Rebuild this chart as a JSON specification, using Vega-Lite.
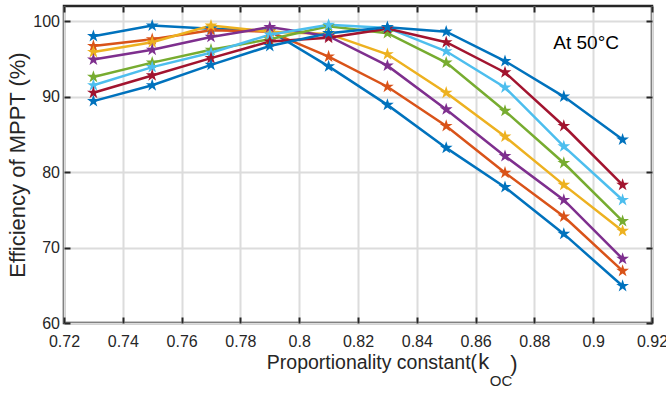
{
  "$schema": "https://vega.github.io/schema/vega-lite/v6.json",
  "width": 588,
  "height": 317,
  "autosize": {"type": "none"},
  "padding": {"left": 64, "top": 6, "right": 14, "bottom": 73},
  "background": "white",
  "config": {
    "font": "Liberation Sans",
    "view": {"stroke": "#262626", "strokeWidth": 2.5},
    "axis": {
      "domain": false,
      "labelFont": "Liberation Sans",
      "labelFontSize": 16,
      "labelColor": "#262626",
      "labelFlush": false,
      "labelOverlap": false,
      "tickColor": "#262626",
      "tickWidth": 2,
      "tickSize": -6,
      "gridColor": "#dcdcdc",
      "gridWidth": 2,
      "gridOpacity": 1,
      "titleFont": "Liberation Sans",
      "titleFontWeight": "normal",
      "titleColor": "#262626"
    }
  },
  "data": {"values": [
      {"k": 0.73, "eff": 98.0, "s": "1200W/m2"}, {"k": 0.75, "eff": 99.4, "s": "1200W/m2"}, {"k": 0.77, "eff": 99.0, "s": "1200W/m2"}, {"k": 0.79, "eff": 98.7, "s": "1200W/m2"}, {"k": 0.81, "eff": 94.0, "s": "1200W/m2"}, {"k": 0.83, "eff": 88.9, "s": "1200W/m2"}, {"k": 0.85, "eff": 83.2, "s": "1200W/m2"}, {"k": 0.87, "eff": 78.0, "s": "1200W/m2"}, {"k": 0.89, "eff": 71.8, "s": "1200W/m2"}, {"k": 0.91, "eff": 64.9, "s": "1200W/m2"},
      {"k": 0.73, "eff": 96.7, "s": "1100W/m2"}, {"k": 0.75, "eff": 97.6, "s": "1100W/m2"}, {"k": 0.77, "eff": 98.8, "s": "1100W/m2"}, {"k": 0.79, "eff": 98.6, "s": "1100W/m2"}, {"k": 0.81, "eff": 95.3, "s": "1100W/m2"}, {"k": 0.83, "eff": 91.3, "s": "1100W/m2"}, {"k": 0.85, "eff": 86.1, "s": "1100W/m2"}, {"k": 0.87, "eff": 79.9, "s": "1100W/m2"}, {"k": 0.89, "eff": 74.1, "s": "1100W/m2"}, {"k": 0.91, "eff": 66.9, "s": "1100W/m2"},
      {"k": 0.73, "eff": 95.9, "s": "1000W/m2"}, {"k": 0.75, "eff": 97.2, "s": "1000W/m2"}, {"k": 0.77, "eff": 99.4, "s": "1000W/m2"}, {"k": 0.79, "eff": 98.6, "s": "1000W/m2"}, {"k": 0.81, "eff": 98.3, "s": "1000W/m2"}, {"k": 0.83, "eff": 95.6, "s": "1000W/m2"}, {"k": 0.85, "eff": 90.5, "s": "1000W/m2"}, {"k": 0.87, "eff": 84.7, "s": "1000W/m2"}, {"k": 0.89, "eff": 78.3, "s": "1000W/m2"}, {"k": 0.91, "eff": 72.2, "s": "1000W/m2"},
      {"k": 0.73, "eff": 94.9, "s": "900W/m2"}, {"k": 0.75, "eff": 96.2, "s": "900W/m2"}, {"k": 0.77, "eff": 97.9, "s": "900W/m2"}, {"k": 0.79, "eff": 99.2, "s": "900W/m2"}, {"k": 0.81, "eff": 98.0, "s": "900W/m2"}, {"k": 0.83, "eff": 94.1, "s": "900W/m2"}, {"k": 0.85, "eff": 88.3, "s": "900W/m2"}, {"k": 0.87, "eff": 82.1, "s": "900W/m2"}, {"k": 0.89, "eff": 76.3, "s": "900W/m2"}, {"k": 0.91, "eff": 68.5, "s": "900W/m2"},
      {"k": 0.73, "eff": 92.6, "s": "800W/m2"}, {"k": 0.75, "eff": 94.5, "s": "800W/m2"}, {"k": 0.77, "eff": 96.2, "s": "800W/m2"}, {"k": 0.79, "eff": 97.6, "s": "800W/m2"}, {"k": 0.81, "eff": 99.3, "s": "800W/m2"}, {"k": 0.83, "eff": 98.4, "s": "800W/m2"}, {"k": 0.85, "eff": 94.5, "s": "800W/m2"}, {"k": 0.87, "eff": 88.1, "s": "800W/m2"}, {"k": 0.89, "eff": 81.2, "s": "800W/m2"}, {"k": 0.91, "eff": 73.5, "s": "800W/m2"},
      {"k": 0.73, "eff": 91.5, "s": "700W/m2"}, {"k": 0.75, "eff": 93.9, "s": "700W/m2"}, {"k": 0.77, "eff": 95.8, "s": "700W/m2"}, {"k": 0.79, "eff": 98.2, "s": "700W/m2"}, {"k": 0.81, "eff": 99.5, "s": "700W/m2"}, {"k": 0.83, "eff": 99.1, "s": "700W/m2"}, {"k": 0.85, "eff": 96.0, "s": "700W/m2"}, {"k": 0.87, "eff": 91.2, "s": "700W/m2"}, {"k": 0.89, "eff": 83.4, "s": "700W/m2"}, {"k": 0.91, "eff": 76.3, "s": "700W/m2"},
      {"k": 0.73, "eff": 90.5, "s": "600W/m2"}, {"k": 0.75, "eff": 92.8, "s": "600W/m2"}, {"k": 0.77, "eff": 95.1, "s": "600W/m2"}, {"k": 0.79, "eff": 97.3, "s": "600W/m2"}, {"k": 0.81, "eff": 97.8, "s": "600W/m2"}, {"k": 0.83, "eff": 99.0, "s": "600W/m2"}, {"k": 0.85, "eff": 97.2, "s": "600W/m2"}, {"k": 0.87, "eff": 93.2, "s": "600W/m2"}, {"k": 0.89, "eff": 86.1, "s": "600W/m2"}, {"k": 0.91, "eff": 78.3, "s": "600W/m2"},
      {"k": 0.73, "eff": 89.4, "s": "500W/m2"}, {"k": 0.75, "eff": 91.5, "s": "500W/m2"}, {"k": 0.77, "eff": 94.2, "s": "500W/m2"}, {"k": 0.79, "eff": 96.7, "s": "500W/m2"}, {"k": 0.81, "eff": 98.4, "s": "500W/m2"}, {"k": 0.83, "eff": 99.2, "s": "500W/m2"}, {"k": 0.85, "eff": 98.6, "s": "500W/m2"}, {"k": 0.87, "eff": 94.7, "s": "500W/m2"}, {"k": 0.89, "eff": 90.0, "s": "500W/m2"}, {"k": 0.91, "eff": 84.3, "s": "500W/m2"}
  ]},
  "resolve": {"scale": {"x": "shared", "y": "shared"}, "axis": {"x": "independent", "y": "independent"}},
  "layer": [
    {
      "mark": {"type": "line", "strokeWidth": 2.5, "clip": true},
      "encoding": {
        "x": {"field": "k", "type": "quantitative",
              "scale": {"domain": [0.72, 0.92], "nice": false, "zero": false},
              "axis": {"values": [0.72, 0.74, 0.76, 0.78, 0.8, 0.82, 0.84, 0.86, 0.88, 0.9, 0.92],
                       "format": "~g", "labelPadding": 16, "title": null, "grid": true}},
        "y": {"field": "eff", "type": "quantitative",
              "scale": {"domain": [60, 102], "nice": false, "zero": false},
              "axis": {"values": [60, 70, 80, 90, 100], "labelPadding": 10.5, "title": "Efficiency of MPPT (%)",
                       "titleFontSize": 22, "titlePadding": 3, "grid": true}},
        "color": {"field": "s", "type": "nominal",
                  "scale": {"domain": ["1200W/m2", "1100W/m2", "1000W/m2", "900W/m2", "800W/m2", "700W/m2", "600W/m2", "500W/m2"],
                            "range": ["#0072BD", "#D95319", "#EDB120", "#7E2F8E", "#77AC30", "#4DBEEE", "#A2142F", "#0072BD"]},
                  "legend": null}
      }
    },
    {
      "mark": {"type": "point", "shape": "M0,-1L0.2245,-0.309L0.951,-0.309L0.363,0.118L0.588,0.809L0,0.382L-0.588,0.809L-0.363,0.118L-0.951,-0.309L-0.2245,-0.309Z", "filled": true, "size": 180, "opacity": 1, "strokeWidth": 0, "clip": true},
      "encoding": {
        "x": {"field": "k", "type": "quantitative",
              "axis": {"orient": "top", "values": [0.72, 0.74, 0.76, 0.78, 0.8, 0.82, 0.84, 0.86, 0.88, 0.9, 0.92],
                       "labels": false, "title": null, "grid": false}},
        "y": {"field": "eff", "type": "quantitative",
              "axis": {"orient": "right", "values": [60, 70, 80, 90, 100], "labels": false, "title": null, "grid": false}},
        "color": {"field": "s", "type": "nominal",
                  "legend": {"orient": "none", "legendX": 123, "legendY": 92, "title": null,
                             "symbolType": "M0,-0.55L0.123,-0.17L0.523,-0.17L0.2,0.065L0.323,0.445L0,0.21L-0.323,0.445L-0.2,0.065L-0.523,-0.17L-0.123,-0.17Z M-1,-0.1L1,-0.1L1,0.1L-1,0.1Z",
                             "symbolSize": 576, "symbolStrokeWidth": 0, "symbolOpacity": 1,
                             "labelFontSize": 15, "labelColor": "#000000", "labelOffset": 2,
                             "rowPadding": 0.8, "padding": 3,
                             "strokeColor": "#262626", "fillColor": "white"}}
      }
    },
    {
      "data": {"values": [{"label": "At 50°C"}]},
      "mark": {"type": "text", "fontSize": 19, "align": "center", "baseline": "middle", "color": "#000000"},
      "encoding": {"x": {"datum": 0.8976, "type": "quantitative", "axis": null}, "y": {"datum": 97.15, "type": "quantitative", "axis": null}, "text": {"field": "label"}}
    },
    {
      "data": {"values": [{"label": "Proportionality constant("}]},
      "mark": {"type": "text", "fontSize": 19.5, "align": "right", "baseline": "alphabetic", "color": "#262626"},
      "encoding": {"x": {"datum": 0.8605, "type": "quantitative", "axis": null}, "y": {"datum": 53.9, "type": "quantitative", "axis": null}, "text": {"field": "label"}}
    },
    {
      "data": {"values": [{"label": "k"}]},
      "mark": {"type": "text", "fontSize": 22, "align": "left", "baseline": "alphabetic", "color": "#262626"},
      "encoding": {"x": {"datum": 0.8609, "type": "quantitative", "axis": null}, "y": {"datum": 53.9, "type": "quantitative", "axis": null}, "text": {"field": "label"}}
    },
    {
      "data": {"values": [{"label": "OC"}]},
      "mark": {"type": "text", "fontSize": 15, "align": "left", "baseline": "alphabetic", "color": "#262626"},
      "encoding": {"x": {"datum": 0.8648, "type": "quantitative", "axis": null}, "y": {"datum": 51.6, "type": "quantitative", "axis": null}, "text": {"field": "label"}}
    },
    {
      "data": {"values": [{"label": ")"}]},
      "mark": {"type": "text", "fontSize": 22, "align": "left", "baseline": "alphabetic", "color": "#262626"},
      "encoding": {"x": {"datum": 0.8718, "type": "quantitative", "axis": null}, "y": {"datum": 53.6, "type": "quantitative", "axis": null}, "text": {"field": "label"}}
    }
  ]
}
